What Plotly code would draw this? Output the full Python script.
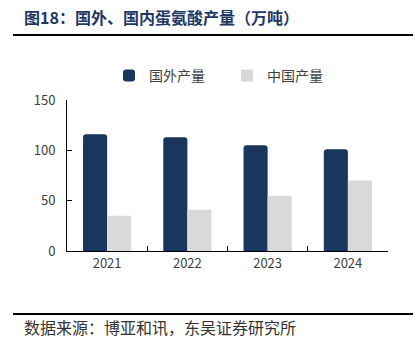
import plotly.graph_objects as go

years = ["2021", "2022", "2023", "2024"]
overseas = [116, 113, 105, 101]
china = [35, 41, 55, 70]
yticks = [0, 50, 100, 150]

title_text = "图18：国外、国内蛋氨酸产量（万吨）"
source_text = "数据来源：博亚和讯，东吴证券研究所"

W, H = 420, 354
L, R, T, B = 67, 388, 100, 251
pw, ph = R - L, B - T

def px(x):
    return (x - L) / pw

def py(y):
    return (B - y) / ph

fig = go.Figure()
fig.add_trace(go.Bar(x=years, y=overseas, name="国外产量",
                     marker=dict(color="#1b365d", cornerradius=3, line=dict(width=0))))
fig.add_trace(go.Bar(x=years, y=china, name="中国产量",
                     marker=dict(color="#d9d9d9", line=dict(width=0))))

font_cjk = "Noto Sans CJK SC"

fig.update_layout(
    width=W, height=H,
    margin=dict(l=L, r=W - R, t=T, b=H - B, pad=0),
    paper_bgcolor="white", plot_bgcolor="white",
    barmode="group", bargap=0.4, bargroupgap=0,
    font=dict(family=font_cjk, size=13, color="#404040"),
    showlegend=True,
    legend=dict(orientation="h", x=px(227), xanchor="center", y=py(76), yanchor="middle",
                font=dict(size=14, color="#404040"), entrywidth=73, entrywidthmode="pixels",
                itemwidth=30, bgcolor="rgba(0,0,0,0)"),
    xaxis=dict(showline=True, linecolor="#000000", linewidth=1, ticks="inside",
               tickson="boundaries", ticklen=5, tickcolor="#000000",
               showgrid=False, tickfont=dict(size=13, color="#404040"), fixedrange=True),
    yaxis=dict(range=[0, 150], tickvals=yticks, showline=True, linecolor="#000000",
               linewidth=1, ticks="inside", ticklen=5, tickcolor="#000000",
               showgrid=False, zeroline=False, tickfont=dict(size=13, color="#404040"),
               ticklabelstandoff=8),
)

fig.add_annotation(x=px(22), y=py(17), xref="paper", yref="paper", xanchor="left",
                   yanchor="middle", showarrow=False, text="<b>" + title_text + "</b>",
                   font=dict(family=font_cjk, size=16, color="#1f3864"))
fig.add_annotation(x=px(22), y=py(327), xref="paper", yref="paper", xanchor="left",
                   yanchor="middle", showarrow=False, text=source_text,
                   font=dict(family=font_cjk, size=16, color="#333333"))

for yline in (35, 314):
    fig.add_shape(type="line", xref="paper", yref="paper", x0=px(13), x1=px(413),
                  y0=py(yline), y1=py(yline), line=dict(color="#000000", width=2))

fig.write_html("out.html")
